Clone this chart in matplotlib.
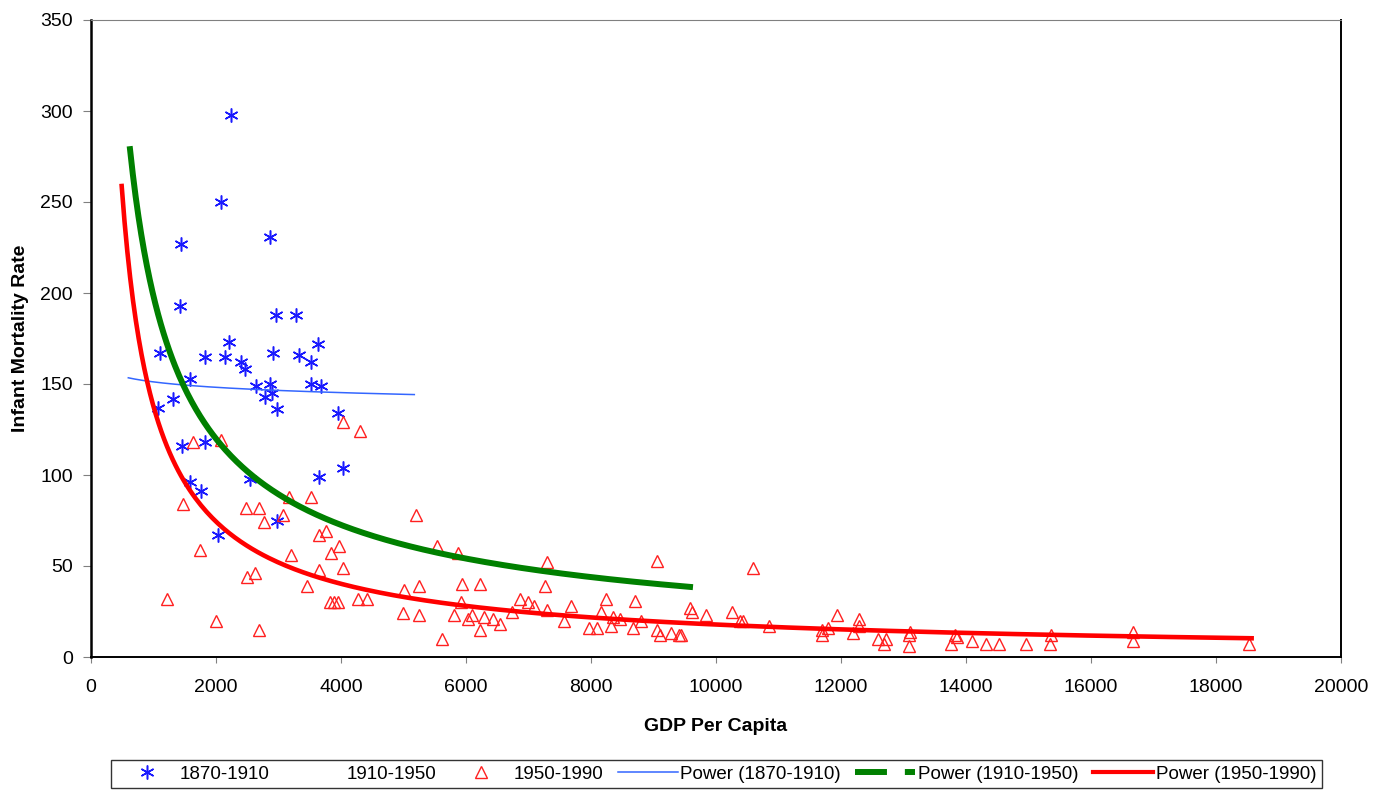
import numpy as np
import matplotlib
matplotlib.use("Agg")
import matplotlib.pyplot as plt
from matplotlib.lines import Line2D

plt.rcParams['font.family'] = ['Liberation Sans', 'DejaVu Sans']

# 1870-1910 observations (GDP per capita, infant mortality)
gdp_1870 = [2240, 2080, 1440, 2864, 1424, 3280, 2960, 2208, 3632, 1104,
            2912, 3328, 1824, 2144, 3520, 2400, 2464, 1584, 2640, 3520,
            3680, 2784, 2896, 2976, 3952, 1072, 1312, 1456, 1824, 4032,
            3648, 1584, 1760, 2544, 2976, 2032, 2860]
imr_1870 = [298, 250, 227, 231, 193, 188, 188, 173, 172, 167,
            167, 166, 165, 165, 162, 162, 158, 153, 149, 150,
            149, 143, 145, 136, 134, 137, 142, 116, 118, 104,
            99, 96, 91, 98, 75, 67, 150]

# 1950-1990 observations
gdp_1950 = [4027, 4304, 1627, 2080, 1477, 2475, 2688, 2773, 3077, 3163,
            3520, 5200, 1744, 3648, 3765, 3973, 3835, 3195, 2491, 2624,
            4027, 3653, 3451, 1211, 2000, 2688, 3824, 3893, 3957, 4267,
            4411, 5013, 5248, 5541, 4987, 5248, 5611, 5877, 7291, 9056,
            10597, 5941, 6224, 7264, 6864, 6997, 7088, 5920, 5813, 6037,
            6101, 6293, 6437, 6544, 6224, 6741, 7291, 7568, 7675, 8235,
            8704, 8155, 8357, 8315, 8464, 7968, 8091, 8677, 8795, 9051,
            9104, 9280, 9408, 9435, 9584, 9621, 9835, 10261, 10384, 10437,
            10848, 11691, 11691, 11797, 11931, 12288, 12288, 12197, 12597, 12720,
            12688, 13104, 13093, 13093, 13824, 13851, 13755, 14101, 14315, 14528,
            14955, 15360, 15344, 16677, 16677, 18533]
imr_1950 = [129, 124, 118, 119, 84, 82, 82, 74, 78, 88,
            88, 78, 59, 67, 69, 61, 57, 56, 44, 46,
            49, 48, 39, 32, 20, 15, 30, 30, 30, 32,
            32, 37, 39, 61, 24, 23, 10, 57, 52, 53,
            49, 40, 40, 39, 32, 30, 28, 30, 23, 21,
            23, 22, 21, 18, 15, 25, 26, 20, 28, 32,
            31, 25, 22, 17, 21, 16, 16, 16, 20, 15,
            12, 13, 12, 12, 27, 25, 23, 25, 20, 20,
            17, 15, 12, 16, 23, 21, 17, 13, 10, 10,
            7, 14, 12, 6, 12, 11, 7, 9, 7, 7,
            7, 12, 7, 14, 9, 7]

# power trendlines y = a * x^b and the GDP span they cover
pow_1870 = (184.3, -0.0287, 597, 5173)
pow_1910 = (29640, -0.7249, 624, 9584)
pow_1950 = (63280, -0.8875, 491, 18570)


def power_curve(a, b, x0, x1):
    xs = np.linspace(x0, x1, 400)
    return xs, a * xs ** b


fig = plt.figure(figsize=(13.82, 7.90), dpi=100)
ax = fig.add_axes([91 / 1382, 1 - 657 / 790, 1250 / 1382, 637 / 790])

ax.plot(gdp_1870, imr_1870, linestyle='none', marker=(6, 2, 0),
        markersize=10, markeredgewidth=1.1, color='#1a1aff')
ax.plot(gdp_1950, imr_1950, linestyle='none', marker='^', markersize=9,
        markerfacecolor='none', markeredgecolor='#ff2020', markeredgewidth=1.0)

xs, ys = power_curve(*pow_1870)
ax.plot(xs, ys, color='#3366ff', lw=1.1)
xs, ys = power_curve(*pow_1910)
ax.plot(xs, ys, color='#008000', lw=4.3)
xs, ys = power_curve(*pow_1950)
ax.plot(xs, ys, color='#ff0000', lw=3.3)

ax.set_xlim(0, 20000)
ax.set_ylim(0, 350)
ax.set_xticks(np.arange(0, 20001, 2000))
ax.set_yticks(np.arange(0, 351, 50))
ax.tick_params(labelsize=14, color='#808080', direction='out')
ax.tick_params(axis='x', length=4, pad=12)
ax.tick_params(axis='y', length=6, pad=7)
ax.spines['left'].set_linewidth(1.8)
ax.spines['bottom'].set_linewidth(1.4)
ax.spines['top'].set_color('#808080')
ax.spines['right'].set_linewidth(1.4)

ax.set_xlabel('GDP Per Capita', fontsize=14, fontweight='bold', labelpad=16)
ax.set_ylabel('Infant Mortality Rate', fontsize=14, fontweight='bold', labelpad=8)

handles = [
    Line2D([], [], linestyle='none', marker=(6, 2, 0), markersize=10,
           markeredgewidth=1.1, color='#1a1aff'),
    Line2D([], [], linestyle='none', marker='none'),
    Line2D([], [], linestyle='none', marker='^', markersize=9,
           markerfacecolor='none', markeredgecolor='#ff2020'),
    Line2D([], [], color='#3366ff', lw=1.1),
    Line2D([], [], color='#008000', lw=4.3, dashes=(5.35, 3.0),
           solid_capstyle='butt', dash_capstyle='butt'),
    Line2D([], [], color='#ff0000', lw=3.0),
]
labels = ['1870-1910', '1910-1950', '1950-1990', 'Power (1870-1910)',
          'Power (1910-1950)', 'Power (1950-1990)']
leg = fig.legend(handles, labels, loc='upper left', ncol=6,
                 bbox_to_anchor=(111 / 1382, 1 - 760 / 790, 1211 / 1382, 0),
                 mode='expand', fontsize=13.5, frameon=True, fancybox=False,
                 handlelength=3.2, handletextpad=0.15, columnspacing=0.8,
                 borderpad=0.3, borderaxespad=0)
leg.get_frame().set_edgecolor('black')
leg.get_frame().set_linewidth(1.0)

fig.savefig('out.png', dpi=100)
